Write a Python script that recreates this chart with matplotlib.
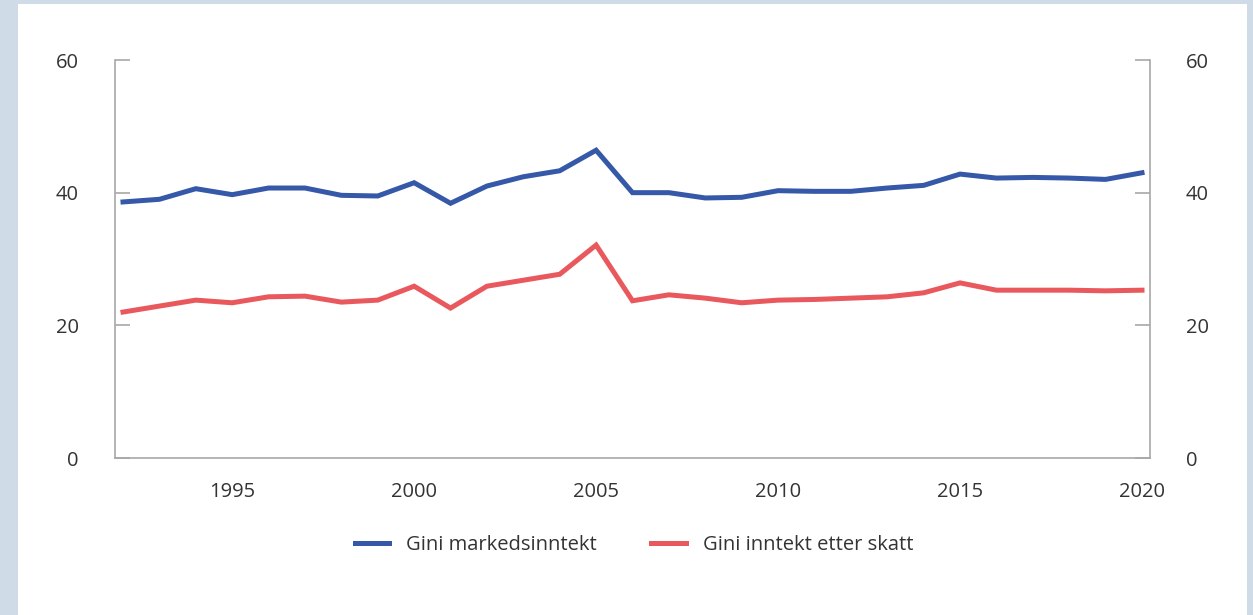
import matplotlib.pyplot as plt
from matplotlib.patches import Rectangle

plt.rcParams['font.family'] = ['Open Sans', 'DejaVu Sans']

years = list(range(1992, 2021))
gini_marked = [38.6, 39.0, 40.6, 39.7, 40.7, 40.7, 39.6, 39.5, 41.5, 38.4,
               41.0, 42.4, 43.3, 46.4, 40.0, 40.0, 39.2, 39.3, 40.3, 40.2,
               40.2, 40.7, 41.1, 42.8, 42.2, 42.3, 42.2, 42.0, 43.0]
gini_skatt = [22.0, 22.9, 23.8, 23.4, 24.3, 24.4, 23.5, 23.8, 25.9, 22.6,
              25.9, 26.8, 27.7, 32.1, 23.7, 24.6, 24.1, 23.4, 23.8, 23.9,
              24.1, 24.3, 24.9, 26.4, 25.3, 25.3, 25.3, 25.2, 25.3]
yticks = [0, 20, 40, 60]
xticks = [1995, 2000, 2005, 2010, 2015, 2020]

blue = '#3558a8'
red = '#e9585c'
grey = '#a8a8a8'
txt = '#333333'

fig = plt.figure(figsize=(12.53, 6.15), dpi=100)
fig.patch.set_facecolor('#cfdbe6')
# white panel
fig.patches.append(Rectangle((18 / 1253, 0), (1247 - 18) / 1253, 1 - 4 / 615,
                             transform=fig.transFigure, facecolor='white',
                             edgecolor='none', zorder=-10))

ax = fig.add_axes([115 / 1253, 1 - 458 / 615, (1150 - 115) / 1253, (458 - 60) / 615])
ax.set_zorder(2)
ax.set_facecolor('none')
ax.plot(years, gini_marked, color=blue, lw=3.6, label='Gini markedsinntekt', solid_joinstyle='miter')
ax.plot(years, gini_skatt, color=red, lw=3.6, label='Gini inntekt etter skatt', solid_joinstyle='miter')

ax.set_xlim(1991.78, 2020.22)
ax.set_ylim(0, 60)
ax.set_yticks(yticks)
ax.set_xticks(xticks)

for s in ['left', 'right', 'bottom']:
    ax.spines[s].set_color(grey)
    ax.spines[s].set_linewidth(1.2)
ax.spines['top'].set_visible(False)

ax.tick_params(axis='y', direction='in', length=11, width=1.2, color=grey,
               labelsize=14.5, labelcolor=txt, pad=26, left=True, right=True,
               labelleft=True, labelright=True)
ax.tick_params(axis='x', length=0, labelsize=14.5, labelcolor=txt, pad=17)

fig.legend(loc='center', bbox_to_anchor=(634 / 1253, 1 - 545 / 615), ncol=2, frameon=False,
           fontsize=14.5, handlelength=1.7, handletextpad=0.85, columnspacing=2.7,
           labelcolor=txt)

fig.savefig('out.png', dpi=100, facecolor=fig.get_facecolor())
